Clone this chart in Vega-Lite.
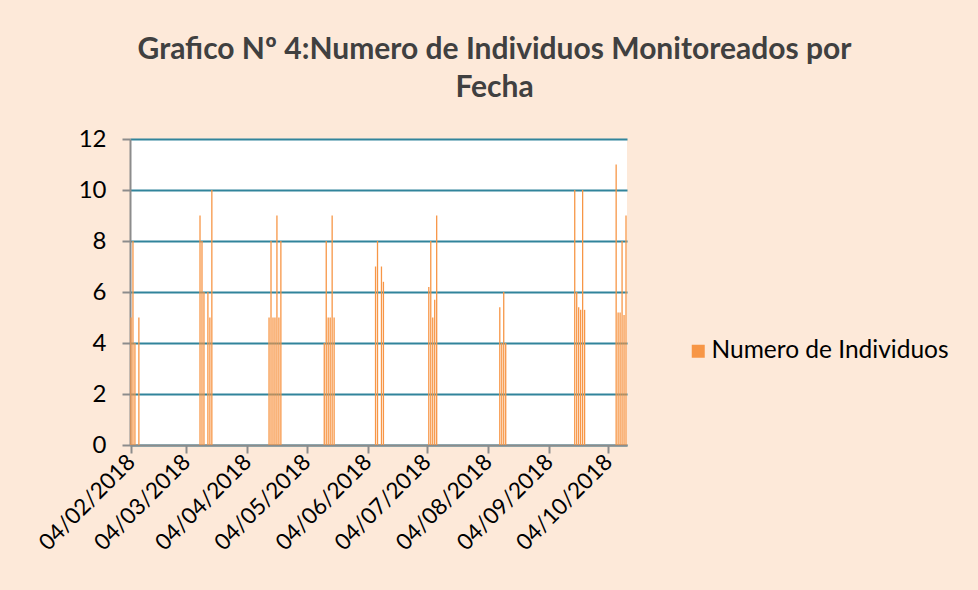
{
  "$schema": "https://vega.github.io/schema/vega-lite/v6.json",
  "width": 497,
  "height": 306,
  "autosize": {"type": "none"},
  "padding": {"left": 130, "top": 139, "right": 351, "bottom": 145},
  "background": "#FDE9D9",
  "config": {
    "view": {"fill": "white", "stroke": null},
    "font": "Lato"
  },
  "title": {
    "text": ["Grafico Nº 4:Numero de Individuos Monitoreados por", "Fecha"],
    "font": "Lato",
    "fontSize": 30,
    "fontWeight": "bold",
    "color": "#404040",
    "anchor": "middle",
    "dx": 116,
    "offset": 24,
    "lineHeight": 38
  },
  "data": {
    "values": [
      {"fecha": "2018-02-04T00:00:00", "valor": 5},
      {"fecha": "2018-02-05T00:00:00", "valor": 8},
      {"fecha": "2018-02-06T00:00:00", "valor": 4},
      {"fecha": "2018-02-08T00:00:00", "valor": 5},
      {"fecha": "2018-03-11T00:00:00", "valor": 9},
      {"fecha": "2018-03-12T00:00:00", "valor": 8},
      {"fecha": "2018-03-13T00:00:00", "valor": 6},
      {"fecha": "2018-03-15T00:00:00", "valor": 6},
      {"fecha": "2018-03-16T00:00:00", "valor": 5},
      {"fecha": "2018-03-17T00:00:00", "valor": 10},
      {"fecha": "2018-04-15T00:00:00", "valor": 5},
      {"fecha": "2018-04-16T00:00:00", "valor": 8},
      {"fecha": "2018-04-17T00:00:00", "valor": 5},
      {"fecha": "2018-04-18T00:00:00", "valor": 5},
      {"fecha": "2018-04-19T00:00:00", "valor": 9},
      {"fecha": "2018-04-20T00:00:00", "valor": 5},
      {"fecha": "2018-04-21T00:00:00", "valor": 8},
      {"fecha": "2018-05-13T00:00:00", "valor": 4},
      {"fecha": "2018-05-14T00:00:00", "valor": 8},
      {"fecha": "2018-05-15T00:00:00", "valor": 5},
      {"fecha": "2018-05-16T00:00:00", "valor": 5},
      {"fecha": "2018-05-17T00:00:00", "valor": 9},
      {"fecha": "2018-05-18T00:00:00", "valor": 5},
      {"fecha": "2018-06-08T00:00:00", "valor": 7},
      {"fecha": "2018-06-09T00:00:00", "valor": 8},
      {"fecha": "2018-06-11T00:00:00", "valor": 7},
      {"fecha": "2018-06-12T00:00:00", "valor": 6.4},
      {"fecha": "2018-07-05T00:00:00", "valor": 6.2},
      {"fecha": "2018-07-06T00:00:00", "valor": 8},
      {"fecha": "2018-07-07T00:00:00", "valor": 5},
      {"fecha": "2018-07-08T00:00:00", "valor": 5.7},
      {"fecha": "2018-07-09T00:00:00", "valor": 9},
      {"fecha": "2018-08-10T00:00:00", "valor": 5.4},
      {"fecha": "2018-08-11T00:00:00", "valor": 4},
      {"fecha": "2018-08-12T00:00:00", "valor": 6},
      {"fecha": "2018-08-13T00:00:00", "valor": 4},
      {"fecha": "2018-09-17T00:00:00", "valor": 10},
      {"fecha": "2018-09-18T00:00:00", "valor": 6},
      {"fecha": "2018-09-19T00:00:00", "valor": 5.4},
      {"fecha": "2018-09-20T00:00:00", "valor": 5.3},
      {"fecha": "2018-09-21T00:00:00", "valor": 10},
      {"fecha": "2018-09-22T00:00:00", "valor": 5.3},
      {"fecha": "2018-10-08T00:00:00", "valor": 11},
      {"fecha": "2018-10-09T00:00:00", "valor": 5.2},
      {"fecha": "2018-10-10T00:00:00", "valor": 5.2},
      {"fecha": "2018-10-11T00:00:00", "valor": 8},
      {"fecha": "2018-10-12T00:00:00", "valor": 5.1},
      {"fecha": "2018-10-13T00:00:00", "valor": 9}
    ]
  },
  "mark": {"type": "bar", "size": 1.3},
  "encoding": {
    "x": {
      "field": "fecha",
      "type": "temporal",
      "scale": {
        "padding": 0,
        "nice": false,
        "domain": [
          {"year": 2018, "month": 2, "date": 3, "hours": 12},
          {"year": 2018, "month": 10, "date": 13, "hours": 12}
        ]
      },
      "axis": {
        "title": null,
        "grid": false,
        "values": [
          {"year": 2018, "month": 2, "date": 4},
          {"year": 2018, "month": 3, "date": 4},
          {"year": 2018, "month": 4, "date": 4},
          {"year": 2018, "month": 5, "date": 4},
          {"year": 2018, "month": 6, "date": 4},
          {"year": 2018, "month": 7, "date": 4},
          {"year": 2018, "month": 8, "date": 4},
          {"year": 2018, "month": 9, "date": 4},
          {"year": 2018, "month": 10, "date": 4}
        ],
        "format": "%d/%m/%Y",
        "labelAngle": -45,
        "labelAlign": "right",
        "labelBaseline": "middle",
        "labelFontSize": 22.5,
        "labelFont": "Lato",
        "labelColor": "#000000",
        "labelPadding": 5,
        "labelOverlap": false,
        "labelFlush": false,
        "domainColor": "#8C8C8C",
        "domainWidth": 2,
        "tickColor": "#8C8C8C",
        "tickWidth": 2,
        "tickSize": 8
      }
    },
    "y": {
      "field": "valor",
      "type": "quantitative",
      "scale": {"domain": [0, 12], "nice": false, "padding": 0},
      "axis": {
        "title": null,
        "values": [0, 2, 4, 6, 8, 10, 12],
        "grid": true,
        "gridColor": "#31849B",
        "gridWidth": 2,
        "labelFontSize": 24,
        "labelFont": "Lato",
        "labelColor": "#000000",
        "labelPadding": 16,
        "domainColor": "#8C8C8C",
        "domainWidth": 2,
        "tickColor": "#8C8C8C",
        "tickWidth": 2,
        "tickSize": 8
      }
    },
    "color": {
      "datum": "Numero de Individuos",
      "type": "nominal",
      "scale": {"range": ["#F79646"]},
      "legend": {
        "title": null,
        "orient": "none",
        "legendX": 556,
        "legendY": 200,
        "symbolType": "square",
        "symbolSize": 169,
        "symbolStrokeWidth": 0,
        "labelFontSize": 24.5,
        "labelFont": "Lato",
        "labelColor": "#000000",
        "labelOffset": 1,
        "labelLimit": 400
      }
    }
  }
}
